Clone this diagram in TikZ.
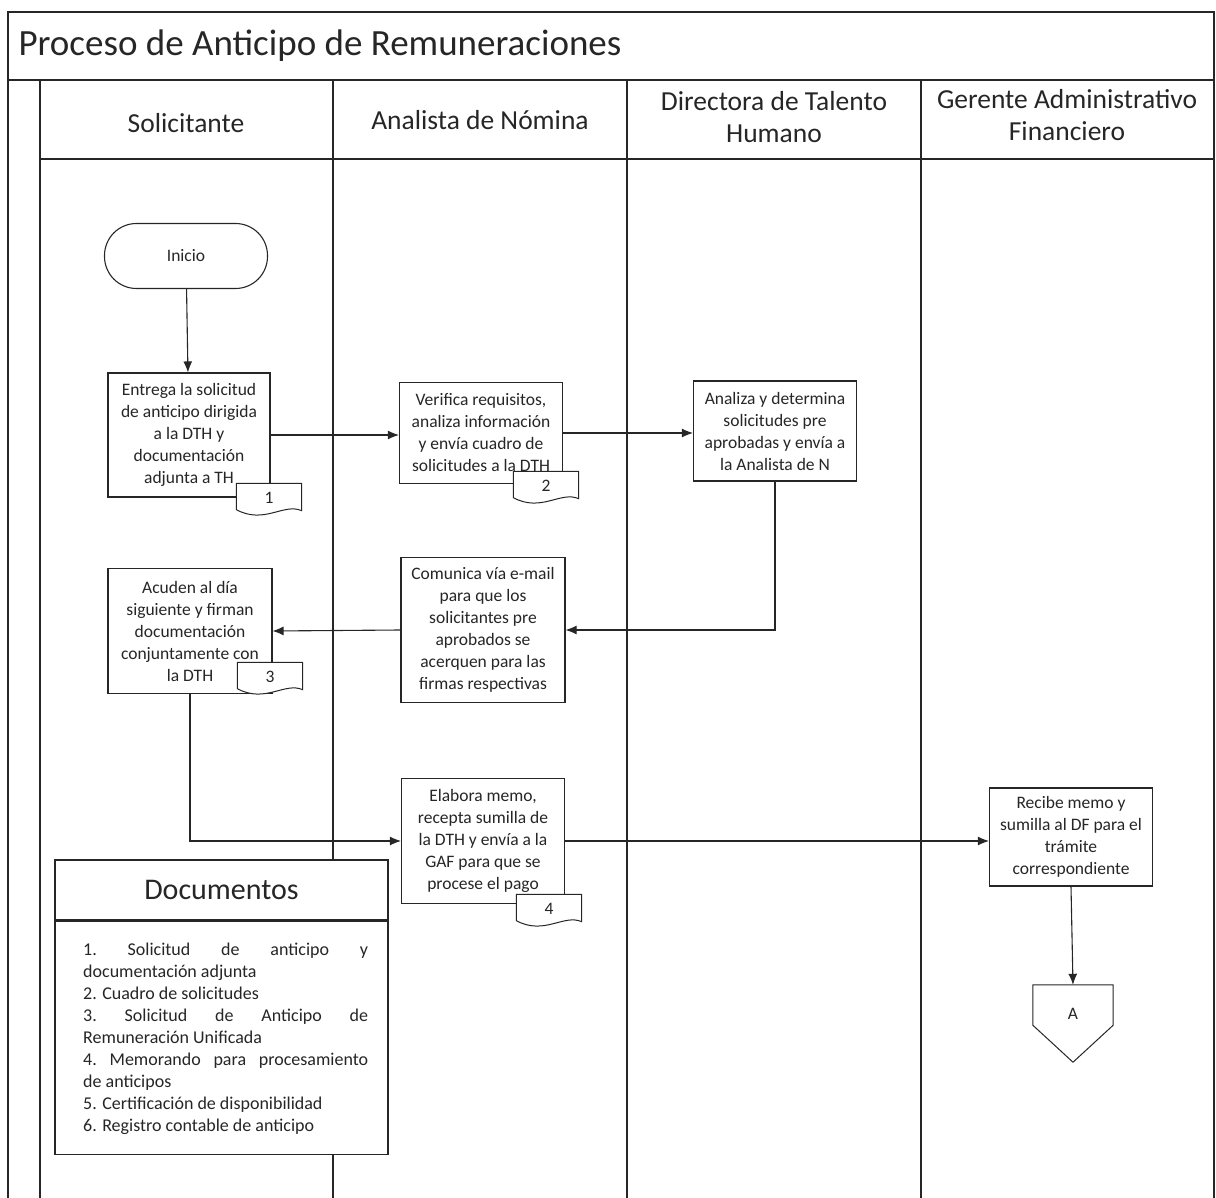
\documentclass[tikz,border=0pt]{standalone}
\usepackage{fontspec}
\setmainfont{Carlito}
\usetikzlibrary{arrows.meta,calc}
\begin{document}
\begin{tikzpicture}[x=1pt,y=-1pt,
  frame/.style={line width=1.3pt,draw=black!85},
  lane/.style={line width=1.1pt,draw=black!85},
  box/.style={draw=black!85,line width=1.1pt,fill=white,align=center,inner sep=0pt,
     font=\fontsize{17.5}{22}\selectfont,text=black!85},
  tag/.style={draw=none,inner sep=0pt,font=\fontsize{17.5}{20}\selectfont,text=black!85},
  tagshape/.style={draw=black!85,line width=1pt,fill=white},
  conn/.style={line width=1.1pt,draw=black!85,-{Latex[length=11pt,width=9pt]}},
  hdr/.style={align=center,font=\fontsize{27.5}{32}\selectfont,text=black!85}
]
\useasboundingbox (0,0) rectangle (1216,1198);
% frame
\draw[frame] (8,1198) -- (8,12) -- (1214,12) -- (1214,1198);
\draw[frame] (8,80) -- (1214,80);
\draw[lane] (40,80) -- (40,1198);
\draw[lane] (40,159) -- (1214,159);
\draw[lane] (333,80) -- (333,1198);
\draw[lane] (627,80) -- (627,1198);
\draw[lane] (921,80) -- (921,1198);
% title and headers
\node[anchor=west,font=\fontsize{37}{40}\selectfont,text=black!85] (title) at (15,46) {Proceso de Anticipo de Remuneraciones};
\node[hdr] (h1) at (186,123) {Solicitante};
\node[hdr] (h2) at (480,120) {Analista de Nómina};
\node[hdr] (h3) at (774,117) {Directora de Talento\\Humano};
\node[hdr] (h4) at (1067,115) {Gerente Administrativo\\Financiero};
% nodes
\node[box,minimum width=163pt,minimum height=65pt,rounded corners=32pt] (inicio) at (186,256) {Inicio};
\node[box,minimum width=162pt,minimum height=124pt] (b1) at (189,435) {Entrega la solicitud\\de anticipo dirigida\\a la DTH y\\documentación\\adjunta a TH};
\node[box,minimum width=163pt,minimum height=101pt] (b2) at (481,433) {Verifica requisitos,\\analiza información\\y envía cuadro de\\solicitudes a la DTH};
\node[box,minimum width=163pt,minimum height=100pt] (b3) at (775,431) {Analiza y determina\\solicitudes pre\\aprobadas y envía a\\la Analista de N};
\node[box,minimum width=164pt,minimum height=145pt] (b4) at (483,630) {Comunica vía e-mail\\para que los\\solicitantes pre\\aprobados se\\acerquen para las\\firmas respectivas};
\node[box,minimum width=164pt,minimum height=125pt] (b5) at (190,631) {Acuden al día\\siguiente y firman\\documentación\\conjuntamente con\\la DTH};
\node[box,minimum width=163pt,minimum height=125pt] (b6) at (483,841) {Elabora memo,\\recepta sumilla de\\la DTH y envía a la\\GAF para que se\\procese el pago};
\node[box,minimum width=163pt,minimum height=98pt] (b7) at (1071,837) {Recibe memo y\\sumilla al DF para el\\trámite\\correspondiente};
% document tags
\foreach \n/\x/\y/\t in {t1/269/497/1, t2/546/485/2, t3/270/676/3, t4/549/908/4}{
  \node[tag,minimum width=65pt,minimum height=27pt] (\n) at (\x,\y) {};
  \draw[tagshape] (\n.north west) -- (\n.north east) -- (\n.south east)
     .. controls ($(\n.south east)+(-18,-8)$) and ($(\n.south west)+(28,14)$) .. ($(\n.south west)+(0,-1)$) -- cycle;
  \node[tag] at ($(\n.center)+(0,1)$) {\t};
}
% off-page connector
\node[draw=none,minimum width=80pt,minimum height=40pt,inner sep=0pt] (offA) at (1073,1005) {};
\draw[tagshape] (offA.north west) -- (offA.north east) -- (offA.south east) -- ($(offA.south)+(0,37)$) -- (offA.south west) -- cycle;
\node[tag] (offAtext) at ($(offA.center)+(0,9)$) {A};
% connectors
\draw[conn] (inicio) -- (b1);
\draw[conn] (b1.east) -- (b1.east -| b2.west);
\draw[conn] (b2.east) -- (b2.east -| b3.west);
\draw[conn] (b3.south) |- (b4.east);
\draw[conn] (b4.west) -- (b5.east);
\draw[conn] (b5.south) |- (b6.west);
\draw[conn] (b6.east) -- (b6.east -| b7.west);
\draw[conn] (b7.south) -- (offA.north);
% documentos
\node[draw=black!85,line width=1.3pt,fill=white,minimum width=333pt,minimum height=60pt,inner sep=0pt,
  font=\fontsize{30}{34}\selectfont,text=black!85] (docT) at (221.5,890) {Documentos};
\node[draw=black!85,line width=1.3pt,fill=white,minimum width=333pt,minimum height=233pt,inner sep=0pt,anchor=north] (docB) at (docT.south) {};
\node[anchor=north west,inner sep=0pt,text=black!85] (docL) at (83,943) {\parbox{285pt}{\fontsize{18}{22}\selectfont\noindent
1.\hfill Solicitud\hfill de\hfill anticipo\hfill y\\
documentación adjunta\\
2. Cuadro de solicitudes\\
3.\hfill Solicitud\hfill de\hfill Anticipo\hfill de\\
Remuneración Unificada\\
4.\hfill Memorando\hfill para\hfill procesamiento\\
de anticipos\\
5. Certificación de disponibilidad\\
6. Registro contable de anticipo}};
\end{tikzpicture}
\end{document}
